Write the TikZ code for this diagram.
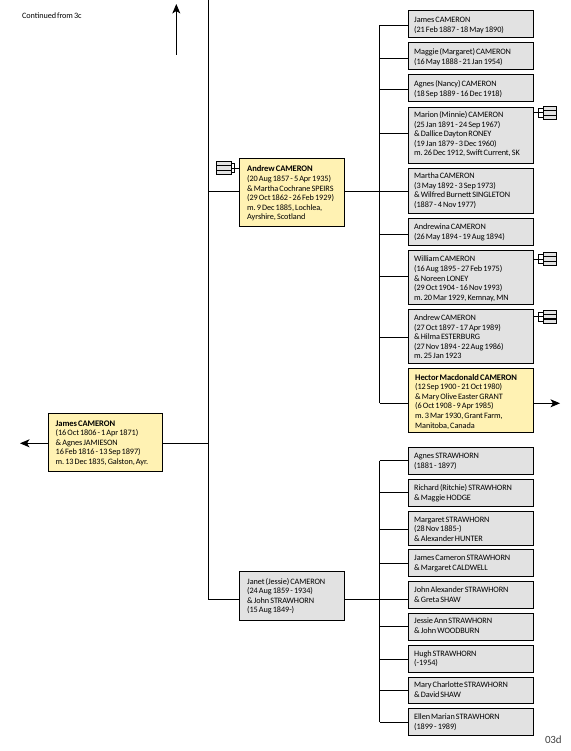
\documentclass[tikz,border=0pt]{standalone}
\usepackage{fontspec}
\setmainfont{Carlito}[LetterSpace=-1,WordSpace=0.6]
\usetikzlibrary{arrows.meta}
\definecolor{pgrey}{HTML}{E2E2E2}
\definecolor{pyel}{HTML}{FFF2B3}
\frenchspacing
\newcommand{\nmbold}[1]{{\fontsize{8.55}{9.6}\selectfont\bfseries #1}}
\tikzset{
  wire/.style={line width=0.9pt},
  tip/.style={line width=0.9pt,-{Stealth[length=9.5pt,width=8pt,inset=2.5pt]}},
  pbase/.style={draw=black,line width=0.9pt,inner sep=0pt},
  greybox/.style={pbase,fill=pgrey},
  yelbox/.style={pbase,fill=pyel},
  ptext/.style={anchor=north west,inner sep=0pt,align=left,font=\fontsize{8.25}{9.6}\selectfont},
  iconrect/.style={draw=black,line width=0.9pt,fill=pgrey},
  pics/pedig/.style 2 args={code={
    \draw[wire] (-#1-4.6,0) -- (-#1,0);
    \draw[wire] (0,-4.6) -| (-#1,4.6) -- (0,4.6);
    \draw[wire] (-#1,0) -- (0,0);
    \draw[iconrect] (0,-6.6) rectangle (#2,-2.4);
    \draw[iconrect] (0,-2.4) rectangle (#2,2.2);
    \draw[iconrect] (0,2.6) rectangle (#2,6.6);
  }}
}
% name, style, x0, y0, x1, y1, text x, first-line centre y, text
\newcommand{\pers}[9]{%
  \pgfmathsetmacro{\pcx}{(#3+#5)/2}%
  \pgfmathsetmacro{\pcy}{(#4+#6)/2}%
  \pgfmathsetmacro{\pw}{#5-#3}%
  \pgfmathsetmacro{\ph}{#6-#4}%
  \node[#2,minimum width=\pw pt,minimum height=\ph pt] (#1) at (\pcx,\pcy) {};
  \pgfmathsetmacro{\pty}{#8-4.4}%
  \node[ptext] (#1T) at (#7,\pty) {\rule{0pt}{7pt}#9};
}
\begin{document}
\begin{tikzpicture}[x=1pt,y=-1pt]
\useasboundingbox (0,0) rectangle (570,751);
\coordinate (top) at (208.7,0);
\coordinate (jA) at (208.7,191.3);
\coordinate (jJ) at (208.7,443.3);
\coordinate (jB) at (208.7,599.3);
\foreach \n/\y in {a1/25.3,a2/58.3,a3/89.3,a4/133.3,a5/191.3,a6/234.3,a7/276.3,a8/337.3,a9/403.3,
  s1/460.7,s2/492.3,s3/529.3,s4/563,s5/599.3,s6/626,s7/659.3,s8/690.3,s9/722.3}
  \coordinate (j\n) at (379.5,\y);
\coordinate (upS) at (176.3,54.7);
\coordinate (upE) at (176.3,4);
\coordinate (leftE) at (20,443.3);
\coordinate (rightE) at (560,403.3);
\draw[wire] (top) -- (jB) -- (239.3,599.3);
\draw[wire] (ja1) -- (ja9);
\draw[wire] (js1) -- (js9);
\draw[tip] (upS) -- (upE);
\pers{andrew}{yelbox}{239.3}{158.3}{344.7}{226.3}{247}{169}{\nmbold{Andrew CAMERON}\\(20 Aug 1857 - 5 Apr 1935)\\\& Martha Cochrane SPEIRS\\(29 Oct 1862 - 26 Feb 1929)\\m. 9 Dec 1885, Lochlea,\\Ayrshire, Scotland}
\pers{janet}{greybox}{239.3}{571.7}{344.7}{620.3}{247}{581.3}{Janet (Jessie) CAMERON\\(24 Aug 1859 - 1934)\\\& John STRAWHORN\\(15 Aug 1849-)}
\pers{james}{yelbox}{48.3}{413.3}{162.7}{471.3}{55.5}{423.3}{\nmbold{James CAMERON}\\(16 Oct 1806 - 1 Apr 1871)\\\& Agnes JAMIESON\\16 Feb 1816 - 13 Sep 1897)\\m. 13 Dec 1835, Galston, Ayr.}
\pers{a1}{greybox}{408.3}{10.3}{533.7}{37.3}{414}{20}{James CAMERON\\(21 Feb 1887 - 18 May 1890)}
\pers{a2}{greybox}{408.3}{42.3}{533.7}{69.3}{414}{52}{Maggie (Margaret) CAMERON\\(16 May 1888 - 21 Jan 1954)}
\pers{a3}{greybox}{408.3}{74.3}{533.7}{101.3}{414}{84}{Agnes (Nancy) CAMERON\\(18 Sep 1889 - 16 Dec 1918)}
\pers{a4}{greybox}{408.3}{107.3}{533.7}{163}{414}{114.7}{Marion (Minnie) CAMERON\\(25 Jan 1891 - 24 Sep 1967)\\\& Dallice Dayton RONEY\\(19 Jan 1879 - 3 Dec 1960)\\m. 26 Dec 1912, Swift Current, SK}
\pers{a5}{greybox}{408.3}{168.3}{533.7}{213.3}{414}{176}{Martha CAMERON\\(3 May 1892 - 3 Sep 1973)\\\& Wilfred Burnett SINGLETON\\(1887 - 4 Nov 1977)}
\pers{a6}{greybox}{408.3}{218.3}{533.7}{245.3}{414}{227}{Andrewina CAMERON\\(26 May 1894 - 19 Aug 1894)}
\pers{a7}{greybox}{408.3}{250.3}{533.7}{304.3}{414}{259}{William CAMERON\\(16 Aug 1895 - 27 Feb 1975)\\\& Noreen LONEY\\(29 Oct 1904 - 16 Nov 1993)\\m. 20 Mar 1929, Kemnay, MN}
\pers{a8}{greybox}{408.3}{309.3}{533.7}{363.3}{414}{317.7}{Andrew CAMERON\\(27 Oct 1897 - 17 Apr 1989)\\\& Hilma ESTERBURG\\(27 Nov 1894 - 22 Aug 1986)\\m. 25 Jan 1923}
\pers{a9}{yelbox}{408.3}{368.3}{533.7}{432.3}{415}{377.3}{\nmbold{Hector Macdonald CAMERON}\\(12 Sep 1900 - 21 Oct 1980)\\\& Mary Olive Easter GRANT\\(6 Oct 1908 - 9 Apr 1985)\\m. 3 Mar 1930, Grant Farm,\\Manitoba, Canada}
\pers{s1}{greybox}{408.3}{447.3}{533.7}{474.3}{414}{456}{Agnes STRAWHORN\\(1881 - 1897)}
\pers{s2}{greybox}{408.3}{479.3}{533.7}{506.3}{414}{488}{Richard (Ritchie) STRAWHORN\\\& Maggie HODGE}
\pers{s3}{greybox}{408.3}{511.3}{533.7}{545.3}{414}{519.3}{Margaret STRAWHORN\\(28 Nov 1885-)\\\& Alexander HUNTER}
\pers{s4}{greybox}{408.3}{549.3}{533.7}{576.3}{414}{558}{James Cameron STRAWHORN\\\& Margaret CALDWELL}
\pers{s5}{greybox}{408.3}{581.3}{533.7}{608.3}{414}{590}{John Alexander STRAWHORN\\\& Greta SHAW}
\pers{s6}{greybox}{408.3}{613.3}{533.7}{640.3}{414}{621}{Jessie Ann STRAWHORN\\\& John WOODBURN}
\pers{s7}{greybox}{408.3}{645.3}{533.7}{672.3}{414}{653.3}{Hugh STRAWHORN\\(-1954)}
\pers{s8}{greybox}{408.3}{677.3}{533.7}{703.3}{414}{685}{Mary Charlotte STRAWHORN\\\& David SHAW}
\pers{s9}{greybox}{408.3}{708.3}{533.7}{735}{414}{717}{Ellen Marian STRAWHORN\\(1899 - 1989)}
\draw[wire] (jA) -- (jA -| andrew.west);
\draw[wire] (jJ) -- (jJ -| james.east);
\draw[wire] (ja5 -| andrew.east) -- (ja5);
\draw[wire] (js5 -| janet.east) -- (js5);
\foreach \n in {a1,a2,a3,a4,a5,a6,a7,a8,a9,s1,s2,s3,s4,s5,s6,s7,s8,s9}
  \draw[wire] (j\n) -- (j\n -| \n.west);
\draw[tip] (jJ -| james.west) -- (leftE);
\draw[tip] (rightE -| a9.east) -- (rightE);
\pic at (543.3,112.9) {pedig={5}{13.4}};
\pic at (543.3,259) {pedig={5}{13.4}};
\pic at (543.3,316.6) {pedig={5}{13.4}};
\pic[xscale=-1] at (231.3,168) {pedig={3.4}{15.3}};
\node[font=\fontsize{8.2}{9}\selectfont,anchor=west,inner sep=0pt] (cont) at (22,15.3) {Continued from 3c};
\node[font=\fontsize{11}{12}\selectfont,anchor=west,inner sep=0pt,text=black!75] (pg) at (544.8,739.3) {03d};
\end{tikzpicture}
\end{document}
